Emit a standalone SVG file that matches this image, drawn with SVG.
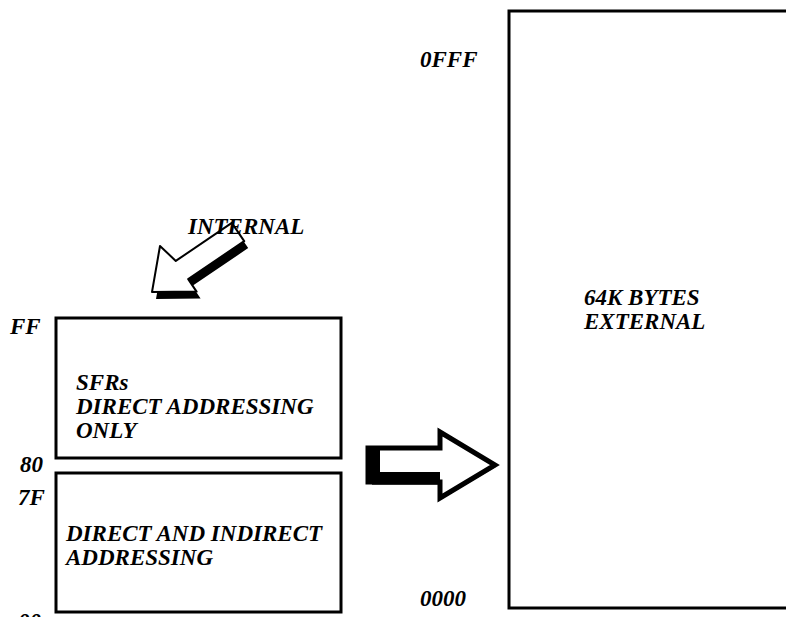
<svg xmlns="http://www.w3.org/2000/svg" width="786" height="617" viewBox="0 0 786 617">
<style>
.t{font-family:"Liberation Serif","Times New Roman",serif;font-weight:bold;font-style:italic;font-size:23px;fill:#000}
.box{fill:#fff;stroke:#000;stroke-width:3}
</style>
<rect width="786" height="617" fill="#fff"/>
<g id="external">
<rect class="box" x="509" y="11" width="290" height="597"/>
<text class="t" x="584" y="305">64K BYTES</text>
<text class="t" x="584" y="329">EXTERNAL</text>
<text class="t" x="420" y="67">0FFF</text>
<text class="t" x="420" y="606">0000</text>
</g>
<g id="sfr">
<rect class="box" x="56" y="318" width="285" height="140"/>
<text class="t" x="76" y="390">SFRs</text>
<text class="t" x="76" y="414">DIRECT ADDRESSING</text>
<text class="t" x="76" y="438">ONLY</text>
<text class="t" x="10" y="334">FF</text>
<text class="t" x="20" y="472">80</text>
</g>
<g id="lower">
<rect class="box" x="56" y="473" width="285" height="139"/>
<text class="t" x="66" y="541">DIRECT AND INDIRECT</text>
<text class="t" x="66" y="565">ADDRESSING</text>
<text class="t" x="18" y="505">7F</text>
<text class="t" x="18" y="629">00</text>
</g>
<g id="internal">
<path d="M231.8 222.9 L244.2 241.1 L188.2 279.1 L196.6 291.6 L152 292 L160 246 L175.8 260.9 Z" fill="#000" transform="translate(4,7)"/>
<path d="M231.8 222.9 L244.2 241.1 L188.2 279.1 L196.6 291.6 L152 292 L160 246 L175.8 260.9 Z" fill="#fff" stroke="#000" stroke-width="2" stroke-linejoin="round"/>
<text class="t" x="188" y="234">INTERNAL</text>
</g>
<g id="connectors">
<path d="M370 453 L372 485 L440 485 L440 500 L496 467 L440 434 L440 449 Z" fill="#555"/>
<path d="M368 448 L440 448 L440 432 L495 465 L440 498 L440 482 L368 482 Z" fill="#fff" stroke="#000" stroke-width="5" stroke-linejoin="miter"/>
<rect x="368" y="448" width="12" height="34" fill="#000"/>
<rect x="368" y="472" width="72" height="10" fill="#000"/>
</g>
</svg>
